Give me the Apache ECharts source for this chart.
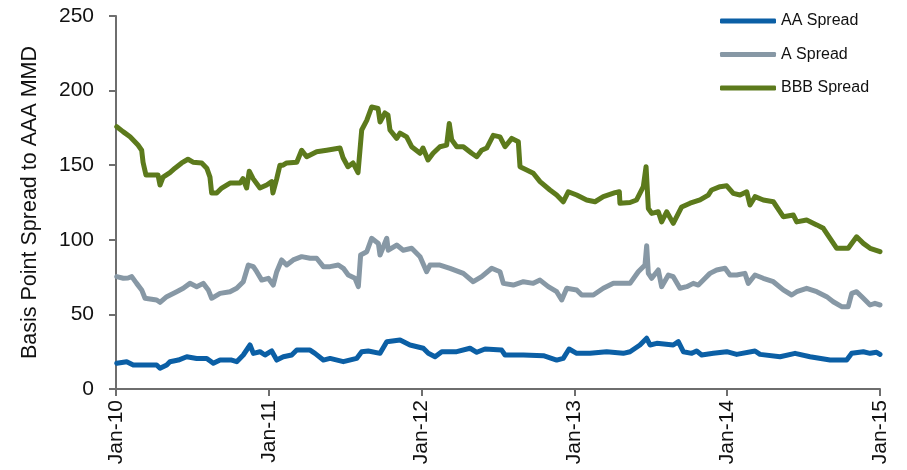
<!DOCTYPE html>
<html>
<head>
<meta charset="utf-8">
<script src="https://cdn.jsdelivr.net/npm/echarts@6/dist/echarts.min.js"></script>
<style>html,body{margin:0;padding:0;background:#fff}#c{width:907px;height:470px}</style>
</head>
<body>
<div id="c"></div>
<script>
// time in years since Jan-2010
var yearTicks = ['Jan-10','Jan-11','Jan-12','Jan-13','Jan-14','Jan-15'];
var seriesNames = ['AA Spread','A Spread','BBB Spread'];

var aaT = [0.005,0.070,0.113,0.266,0.288,0.332,0.353,0.408,0.463,0.528,0.594,0.637,0.681,0.757,0.790,0.833,0.877,0.899,0.942,0.975,1.019,1.052,1.095,1.150,1.183,1.270,1.302,1.357,1.401,1.488,1.575,1.608,1.651,1.662,1.728,1.772,1.859,1.924,2.011,2.044,2.088,2.132,2.230,2.317,2.361,2.415,2.524,2.546,2.666,2.797,2.884,2.927,2.965,3.015,3.102,3.211,3.320,3.364,3.429,3.473,3.495,3.539,3.647,3.680,3.713,3.768,3.800,3.833,3.909,3.997,4.062,4.182,4.215,4.346,4.444,4.542,4.673,4.782,4.815,4.891,4.935,4.978,5.0];
var aaV = [17.2,18.3,16.1,16.1,13.9,16.1,18.3,19.4,21.6,20.5,20.5,17.2,19.4,19.4,18.3,22.8,29.5,23.9,25,22.8,25.5,19.4,21.6,22.8,26.1,26.1,23.9,19.4,20.5,18.3,20.5,25,25.5,26.1,23.9,31.7,32.8,29.5,27.3,23.9,21.6,25,25,27.3,24.6,26.8,26.1,22.8,22.8,22.3,19.4,20.5,26.8,23.9,23.9,25,23.9,25,29.5,34,29.5,30.6,29.5,31.7,25,23.9,25.5,22.8,23.9,25,23.2,25.5,23.2,21.6,23.9,21.6,19.4,19.4,23.9,25,23.9,24.6,23.2];

var aT = [0.005,0.048,0.079,0.103,0.135,0.168,0.190,0.266,0.288,0.332,0.397,0.440,0.484,0.528,0.571,0.604,0.626,0.681,0.746,0.790,0.833,0.866,0.899,0.921,0.954,0.997,1.029,1.052,1.084,1.117,1.160,1.215,1.270,1.313,1.357,1.401,1.455,1.488,1.520,1.564,1.586,1.601,1.641,1.673,1.717,1.728,1.772,1.782,1.837,1.880,1.935,1.990,2.033,2.055,2.120,2.186,2.273,2.338,2.393,2.459,2.513,2.535,2.600,2.666,2.731,2.775,2.829,2.884,2.917,2.950,3.015,3.048,3.124,3.189,3.255,3.294,3.364,3.418,3.462,3.473,3.484,3.506,3.549,3.571,3.615,3.647,3.691,3.735,3.778,3.811,3.855,3.887,3.931,3.986,4.018,4.062,4.116,4.138,4.182,4.236,4.302,4.367,4.422,4.455,4.520,4.586,4.651,4.694,4.749,4.792,4.815,4.847,4.891,4.935,4.967,5.0];
var aV = [75.3,74.2,74.4,75.3,70.8,66.4,60.8,59.7,58.1,61.9,65.2,67.5,70.8,68.6,70.8,66.4,60.8,64.1,65.2,67.5,71.9,83.1,82,78.6,73,74.2,69.7,78.6,86.5,83.1,86.5,88.7,87.6,87.6,82,82,83.1,80.9,76.4,74.2,68.6,89.8,92,101,97.6,89.8,101,93,96.5,93,94.3,88.7,78.6,83.1,83.1,80.9,77.5,71.9,75.3,80.9,78.6,70.8,69.7,71.9,70.8,73,68.6,65.2,59.7,67.5,66.4,63,63,67.5,70.8,70.8,70.8,78.6,83.1,96,77.5,74.2,79.8,68.6,76.4,75.3,67.5,68.6,70.8,69.7,74.2,77.5,79.8,80.9,76.4,76.4,77.5,70.8,76.4,74.2,71.9,66.4,63,65.2,67.5,65.2,61.9,58.5,55.2,55.2,64.1,65.2,60.8,56.3,57.4,56.3];

var bbbT = [0.005,0.046,0.092,0.144,0.168,0.177,0.196,0.275,0.288,0.308,0.353,0.386,0.430,0.471,0.504,0.561,0.594,0.615,0.626,0.659,0.692,0.746,0.812,0.831,0.855,0.872,0.897,0.942,0.986,1.019,1.027,1.052,1.073,1.093,1.117,1.183,1.215,1.248,1.313,1.379,1.466,1.486,1.518,1.551,1.584,1.597,1.608,1.641,1.673,1.715,1.728,1.760,1.780,1.793,1.837,1.859,1.902,1.935,1.990,2.009,2.042,2.075,2.120,2.164,2.181,2.197,2.230,2.273,2.328,2.361,2.393,2.426,2.469,2.513,2.546,2.590,2.633,2.644,2.688,2.731,2.775,2.840,2.884,2.927,2.960,3.015,3.080,3.135,3.189,3.266,3.294,3.298,3.364,3.407,3.451,3.469,3.484,3.506,3.549,3.571,3.604,3.647,3.702,3.757,3.822,3.876,3.898,3.953,3.997,4.040,4.084,4.128,4.149,4.182,4.236,4.302,4.367,4.433,4.455,4.520,4.586,4.629,4.673,4.717,4.792,4.847,4.891,4.935,5.0];
var bbbV = [175.8,172.5,169,163.5,160,152,143.4,143.4,136.7,142,145,148,151.5,154,152,151.5,148,142,131.4,131.4,134.7,138,138,141,134.7,146,141,134.7,136.7,139,131.4,141,150,150,151.5,152,160,155.7,159,160,161.5,155,149,151.5,145,146,173.6,180,189,188,179,185,183.6,173.6,168,171.5,169,162.4,158,161.5,153.5,158,162.4,163.5,178,167,162.4,162.4,158,155.7,160,161.5,170,169,162.4,168,165.7,149,146.8,144.6,139,133.4,130,125.5,132.2,130,126.7,125.5,128.9,131.6,132.2,124.5,125,126.7,135.6,149,121,117.7,118.8,112,118.8,111,122,124.5,126.7,130,133.4,135.6,136.2,131.1,130,132.2,123.3,128.9,126.7,125.5,115.5,116.6,112,113.3,110,107.7,101,94.3,94.3,102,97.6,94.3,92];

var colors = ['#0b5fa5', '#8798a5', '#5c7a1c'];
var font = 'Liberation Sans, Arial, Helvetica, sans-serif';

function pairs(t, v) { return t.map(function (x, i) { return [x, v[i]]; }); }

var chart = echarts.init(document.getElementById('c'), null, {renderer: 'canvas'});
var dataSets = [pairs(aaT, aaV), pairs(aT, aV), pairs(bbbT, bbbV)];

chart.setOption({
  animation: false,
  backgroundColor: '#ffffff',
  grid: {left: 116, right: 27, top: 16, bottom: 81, containLabel: false},
  legend: {
    orient: 'vertical',
    left: 715,
    top: 7,
    icon: 'roundRect',
    itemWidth: 56,
    itemHeight: 5,
    itemGap: 15.5,
    textStyle: {fontFamily: font, fontSize: 16, color: '#111', lineHeight: 18},
    data: seriesNames
  },
  xAxis: {
    type: 'value',
    min: 0, max: 5, interval: 1,
    axisLine: {show: true, lineStyle: {color: '#6e6e6e', width: 2}},
    axisTick: {show: true, length: 7, lineStyle: {color: '#6e6e6e', width: 2}},
    splitLine: {show: false},
    axisLabel: {
      rotate: 90, margin: 11,
      fontFamily: font, fontSize: 21, color: '#111',
      formatter: function (v) { return yearTicks[Math.round(v)]; }
    }
  },
  yAxis: {
    type: 'value',
    min: 0, max: 250, interval: 50,
    name: 'Basis Point Spread to AAA MMD',
    nameLocation: 'middle',
    nameGap: 75,
    nameTextStyle: {fontFamily: font, fontSize: 21.5, color: '#111'},
    axisLine: {show: true, lineStyle: {color: '#6e6e6e', width: 2}},
    axisTick: {show: true, length: 7, lineStyle: {color: '#6e6e6e', width: 2}},
    splitLine: {show: false},
    axisLabel: {margin: 22, fontFamily: font, fontSize: 21, color: '#111'}
  },
  series: seriesNames.map(function (n, i) {
    return {
      name: n,
      type: 'line',
      data: dataSets[i],
      showSymbol: false,
      symbol: 'none',
      smooth: false,
      z: 3 - i,
      color: colors[i],
      lineStyle: {color: colors[i], width: 5, cap: 'round', join: 'round'}
    };
  })
});
</script>
</body>
</html>
